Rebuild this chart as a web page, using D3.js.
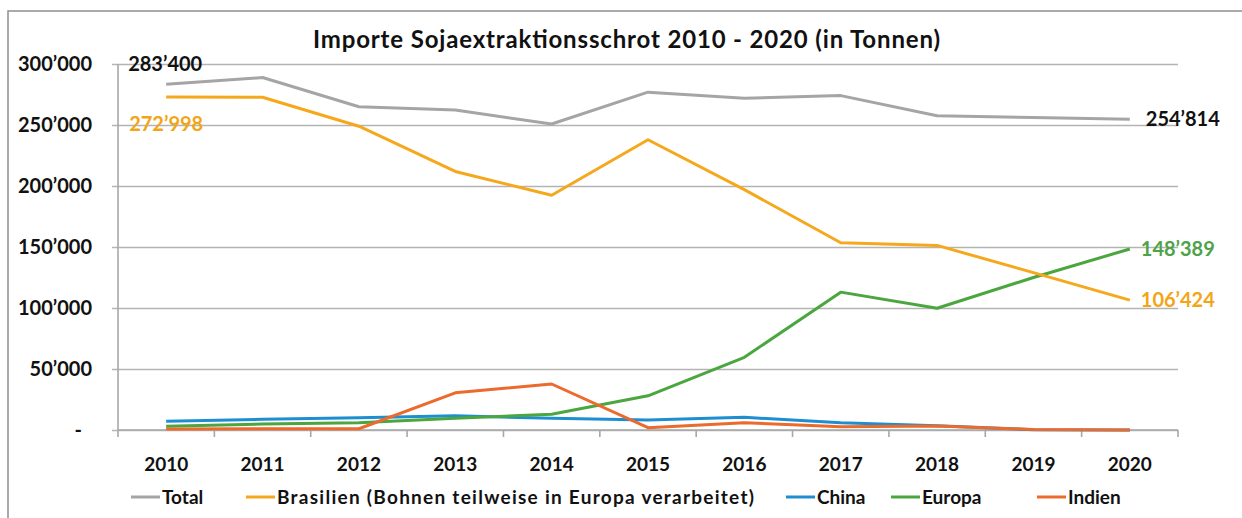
<!DOCTYPE html>
<html>
<head>
<meta charset="utf-8">
<script src="https://cdn.jsdelivr.net/npm/d3@7"></script>
<style>
  body { margin: 0; background: #fff; }
  svg text { font-family: Lato, "Open Sans", sans-serif; font-weight: bold; }
</style>
</head>
<body>
<div id="chart"></div>
<script>
// data
let years = ["2010","2011","2012","2013","2014","2015","2016","2017","2018","2019","2020"];
let total     = [283400, 288900, 265000, 262300, 250800, 276900, 272000, 274100, 257600, 256200, 254814];
let brasilien = [272998, 272700, 249000, 211900, 192400, 237900, 197000, 153500, 151300, 129000, 106424];
let china     = [7100, 8800, 10100, 11700, 9600, 8200, 10400, 6000, 3500, 300, 0];
let europa    = [3000, 4900, 6000, 9600, 12900, 28000, 59600, 113000, 99800, 125000, 148389];
let indien    = [800, 1100, 1000, 30500, 37700, 1900, 6000, 2700, 3300, 400, 0];
let yTicks = [0, 50000, 100000, 150000, 200000, 250000, 300000];
let seriesNames = ["Total", "Brasilien (Bohnen teilweise in Europa verarbeitet)", "China", "Europa", "Indien"];
let colors = ["#a5a5a5", "#f5a81c", "#1d8fd1", "#4ba63f", "#eb6a2c"];

let W = 1242, H = 518;
let margin = {top: 64, right: 64, bottom: 88, left: 118};
let width = W - margin.left - margin.right,
    height = 430 - margin.top;

let svg = d3.select("#chart").append("svg")
    .attr("width", W)
    .attr("height", H);

// outer frame
svg.append("rect")
    .attr("x", 8).attr("y", 11)
    .attr("width", W + 20).attr("height", H + 20)
    .style("fill", "none")
    .style("stroke", "#8e8e8e")
    .style("stroke-width", 1.5);

let g = svg.append("g")
    .attr("transform", "translate(" + margin.left + "," + margin.top + ")");

let x = d3.scaleBand().domain(years).range([0, width]);
let y = d3.scaleLinear().domain([0, 300000]).range([height, 0]);
let cx = function(d){ return x(d) + x.bandwidth() / 2; };

let fmt = function(v){
    if (v === 0) return "-";
    return d3.format(",")(v).replace(/,/g, "\u2019");
};

// y grid + labels
let yAxis = g.append("g")
    .attr("class", "y-axis")
    .call(d3.axisLeft(y).tickValues(yTicks).tickSize(-width).tickPadding(26).tickFormat(fmt));
yAxis.select(".domain").remove();
yAxis.selectAll(".tick line")
    .attr("x1", -6)
    .style("stroke", "#b4b4b4")
    .style("stroke-width", 1.6);
yAxis.selectAll(".tick text")
    .style("font-size", "20px")
    .style("fill", "#111")
    .attr("dx", function(d){ return d === 0 ? -10 : 0; });

// y axis line
g.append("line")
    .attr("x1", 0).attr("x2", 0)
    .attr("y1", 0).attr("y2", height + 7)
    .style("stroke", "#a8a8a8")
    .style("stroke-width", 1.6);

// x axis line and boundary ticks
g.append("line")
    .attr("x1", 0).attr("x2", width)
    .attr("y1", height).attr("y2", height)
    .style("stroke", "#a8a8a8")
    .style("stroke-width", 1.6);
g.selectAll(".xtick")
    .data(years.slice(1).concat(["end"]))
    .enter().append("line")
    .attr("class", "xtick")
    .attr("x1", function(d){ return d === "end" ? width : x(d); })
    .attr("x2", function(d){ return d === "end" ? width : x(d); })
    .attr("y1", height).attr("y2", height + 7)
    .style("stroke", "#a8a8a8")
    .style("stroke-width", 1.6);

let xAxis = g.append("g")
    .attr("class", "x-axis")
    .attr("transform", "translate(0," + height + ")")
    .call(d3.axisBottom(x).tickSize(0).tickPadding(28));
xAxis.select(".domain").remove();
xAxis.selectAll("text")
    .style("font-size", "19px")
    .style("fill", "#111");

// lines
let allSeries = [total, brasilien, china, europa, indien];
let line = d3.line()
    .x(function(d, i){ return cx(years[i]); })
    .y(function(d){ return y(d); });

// draw order so Total sits on top like the original
[2, 3, 4, 1, 0].forEach(function(k){
    g.append("path")
        .datum(allSeries[k])
        .attr("d", line)
        .style("fill", "none")
        .style("stroke", colors[k])
        .style("stroke-width", 3)
        .style("stroke-linejoin", "round");
});

// value labels
let first = years[0], last = years[years.length - 1];
let labels = [
    {v: total[0],  yr: first, dx: -1, dy: -13, anchor: "middle", color: "#111"},
    {v: brasilien[0], yr: first, dx: 0, dy: 34, anchor: "middle", color: "#f2a516"},
    {v: total[10], yr: last, dx: 16, dy: 7, anchor: "start", color: "#111"},
    {v: europa[10], yr: last, dx: 11, dy: 7, anchor: "start", color: "#4ea34a"},
    {v: brasilien[10], yr: last, dx: 11, dy: 7, anchor: "start", color: "#f2a516"}
];
g.selectAll(".vlabel")
    .data(labels)
    .enter().append("text")
    .attr("class", "vlabel")
    .attr("x", function(d){ return cx(d.yr) + d.dx; })
    .attr("y", function(d){ return y(d.v) + d.dy; })
    .style("text-anchor", function(d){ return d.anchor; })
    .style("font-size", "20px")
    .style("fill", function(d){ return d.color; })
    .text(function(d){ return fmt(d.v); });

// title
svg.append("text")
    .attr("x", 313)
    .attr("y", 48)
    .attr("textLength", 627)
    .attr("lengthAdjust", "spacing")
    .style("font-size", "24px")
    .style("fill", "#111")
    .text("Importe Sojaextraktionsschrot 2010 - 2020 (in Tonnen)");

// legend
let legendX = [131, 246, 786, 891, 1037];
let legend = svg.selectAll(".legend")
    .data(seriesNames)
    .enter().append("g")
    .attr("class", "legend")
    .attr("transform", function(d, i){ return "translate(" + legendX[i] + ",497)"; });
legend.append("line")
    .attr("x1", 0).attr("x2", 29)
    .attr("y1", 0).attr("y2", 0)
    .style("stroke", function(d, i){ return colors[i]; })
    .style("stroke-width", 3);
let ltext = legend.append("text")
    .attr("x", 31)
    .attr("y", 7)
    .style("font-size", "19px")
    .style("fill", "#111")
    .text(function(d){ return d; });
// the long Brasilien label is wider in the original font
ltext.filter(function(d, i){ return i === 1; })
    .attr("textLength", 477)
    .attr("lengthAdjust", "spacing");
</script>
</body>
</html>
